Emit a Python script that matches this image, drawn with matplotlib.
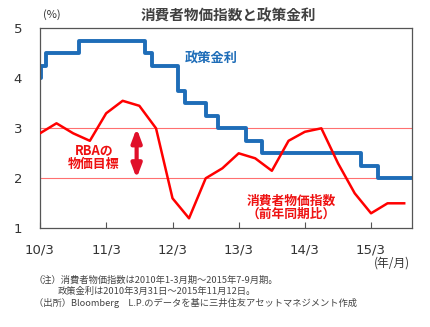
import matplotlib
matplotlib.use("Agg")
import matplotlib.pyplot as plt
import pandas as pd

plt.rcParams['font.family'] = ['Noto Sans CJK JP', 'DejaVu Sans']

# Policy rate (step changes)
rate_dates = ["2010-03-31", "2010-04-07", "2010-05-05", "2010-11-03", "2011-11-02",
              "2011-12-07", "2012-05-02", "2012-06-06", "2012-10-03", "2012-12-05",
              "2013-05-08", "2013-08-07", "2015-02-04", "2015-05-06", "2015-11-12"]
rate_values = [4.00, 4.25, 4.50, 4.75, 4.50, 4.25, 3.75, 3.50, 3.25, 3.00,
               2.75, 2.50, 2.25, 2.00, 2.00]

# CPI y/y, quarterly (plotted at quarter end)
cpi_dates = pd.date_range("2010-03-31", "2015-09-30", freq="QE")
cpi_values = [2.9, 3.1, 2.9, 2.75, 3.3, 3.55, 3.45, 3.0, 1.6, 1.2, 2.0, 2.2,
              2.5, 2.4, 2.15, 2.75, 2.93, 3.0, 2.3, 1.7, 1.3, 1.5, 1.5]

xtick_dates = ["2010-03-31", "2011-03-31", "2012-03-31", "2013-03-31", "2014-03-31", "2015-03-31"]
xtick_labels = ["10/3", "11/3", "12/3", "13/3", "14/3", "15/3"]
yticks = [1, 2, 3, 4, 5]
target_low, target_high = 2, 3

rd = pd.to_datetime(rate_dates)
xd = pd.to_datetime(xtick_dates)

fig = plt.figure(figsize=(4.3, 3.27), dpi=100)
ax = fig.add_axes([40/430, 1-228.3/327, 372/430, 200/327])

ax.axhline(target_high, color="#ff7070", lw=0.8, zorder=1)
ax.axhline(target_low, color="#ff7070", lw=0.8, zorder=1)

ax.step(rd, rate_values, where="post", color="#1e6db8", lw=2.8, zorder=2)
ax.plot(cpi_dates, cpi_values, color="#ff0000", lw=1.8, zorder=3)

ax.set_xlim(pd.Timestamp("2010-03-31"), pd.Timestamp("2015-11-12"))
ax.set_ylim(1, 5)

ax.set_xticks(xd)
ax.set_xticklabels(xtick_labels)
ax.set_yticks(yticks)
ax.set_yticklabels([str(v) for v in yticks])
ax.tick_params(axis="x", direction="in", length=4, width=0.8, color="#555555",
               labelsize=9.5, labelcolor="#333333", pad=11)
ax.tick_params(axis="y", length=0, labelsize=9.5, labelcolor="#333333", pad=16)
for lab in ax.get_xticklabels() + ax.get_yticklabels():
    lab.set_family("DejaVu Sans")
for lab in ax.get_yticklabels():
    lab.set_horizontalalignment("center")
for s in ax.spines.values():
    s.set_color("#555555")
    s.set_linewidth(0.9)

# arrow for target band
arrow_x = pd.Timestamp("2011-09-15")
ax.annotate("", xy=(arrow_x, target_low), xytext=(arrow_x, target_high),
            arrowprops=dict(arrowstyle="<|-|>,head_length=0.8,head_width=0.3", color="#e0102a", lw=3,
                            shrinkA=0, shrinkB=0), zorder=4)

fig.text(94/430, 1-157/327, "RBAの\n物価目標", ha="center", va="center",
         color="#ee1111", fontsize=9.3, fontweight="bold", linespacing=0.95)
fig.text(185/430, 1-59/327, "政策金利", ha="left", va="center",
         color="#1e6db8", fontsize=9.5, fontweight="bold")
fig.text(291/430, 1-208/327, "消費者物価指数\n（前年同期比）", ha="center", va="center",
         color="#ee1111", fontsize=9.2, fontweight="bold", linespacing=0.95)

fig.text(228/430, 1-15/327, "消費者物価指数と政策金利", ha="center", va="center",
         fontsize=10.5, fontweight="bold", color="#404040")
fig.text(52/430, 1-15/327, "(%)", ha="center", va="center", fontsize=8, color="#333333")
fig.text(392/430, 1-263/327, "(年/月)", ha="center", va="center", fontsize=8.5, color="#333333")

fn = dict(fontsize=6.7, color="#444444", va="center", ha="left")
fig.text(34/430, 1-280/327, "（注）消費者物価指数は2010年1-3月期～2015年7-9月期。", **fn)
fig.text(58/430, 1-291.7/327, "政策金利は2010年3月31日～2015年11月12日。", **fn)
fig.text(34/430, 1-303/327, "（出所）Bloomberg　L.P.のデータを基に三井住友アセットマネジメント作成", **fn)

fig.savefig("out.png", dpi=100)
